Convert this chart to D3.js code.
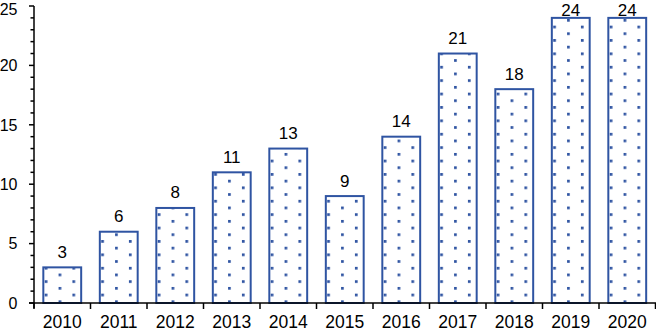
<!DOCTYPE html>
<html>
<head>
<meta charset="utf-8">
<script src="https://cdn.jsdelivr.net/npm/d3@7"></script>
<style>
  html, body { margin: 0; padding: 0; background: #fff; }
  svg { display: block; font-family: "Liberation Sans", Arial, sans-serif; }
</style>
</head>
<body>
<svg id="chart" width="656" height="332"></svg>
<script>
const years = ["2010","2011","2012","2013","2014","2015","2016","2017","2018","2019","2020"];
const counts = [3, 6, 8, 11, 13, 9, 14, 21, 18, 24, 24];
const yTicks = [0, 5, 10, 15, 20, 25];

(function () {
const W = 656, H = 332;
const mLeft = 34, mRight = 655.5, mTop = 6, mBottom = 303;
const blue = "#2f54a2";

const svg = d3.select("#chart");
const x = d3.scaleBand().domain(years).range([mLeft, mRight]).paddingInner(0.33).paddingOuter(0.165);
const y = d3.scaleLinear().domain([0, 25]).range([mBottom, mTop]);

const defs = svg.append("defs");
const dx = 27.7, dy = 13.4, ds = 2.7;
years.forEach((yr, i) => {
  const p = defs.append("pattern")
    .attr("id", "dots" + i)
    .attr("patternUnits", "userSpaceOnUse")
    .attr("width", dx).attr("height", dy)
    .attr("x", x(yr) + 2.75 - ds / 2).attr("y", y(0) - 8 - ds / 2);
  p.append("rect").attr("x", 0).attr("y", 0).attr("width", ds).attr("height", ds).attr("fill", blue);
  p.append("rect").attr("x", dx / 2).attr("y", dy / 2).attr("width", ds).attr("height", ds).attr("fill", blue);
});

// bars
svg.append("g").selectAll("rect").data(years).join("rect")
  .attr("x", d => x(d))
  .attr("y", (d, i) => y(counts[i]))
  .attr("width", x.bandwidth())
  .attr("height", (d, i) => y(0) - y(counts[i]))
  .attr("fill", (d, i) => `url(#dots${i})`)
  .attr("stroke", blue)
  .attr("stroke-width", 2);

// value labels
svg.append("g").selectAll("text").data(years).join("text")
  .attr("x", d => x(d) + x.bandwidth() / 2)
  .attr("y", (d, i) => Math.max(y(counts[i]) - 9.5, 15.5))
  .attr("text-anchor", "middle")
  .attr("font-size", 17)
  .attr("fill", "#000")
  .text((d, i) => counts[i]);

// y axis
const yAxis = svg.append("g");
yAxis.append("line").attr("x1", mLeft).attr("x2", mLeft).attr("y1", mTop).attr("y2", mBottom + 5)
  .attr("stroke", "#000").attr("stroke-width", 1.5);
const minor = d3.range(0, 26);
yAxis.selectAll("line.minor").data(minor.filter(v => v % 5 !== 0)).join("line")
  .attr("class", "minor")
  .attr("x1", mLeft - 3.5).attr("x2", mLeft)
  .attr("y1", d => y(d)).attr("y2", d => y(d))
  .attr("stroke", "#000").attr("stroke-width", 1.5);
yAxis.selectAll("line.major").data(yTicks).join("line")
  .attr("class", "major")
  .attr("x1", mLeft - 5).attr("x2", mLeft)
  .attr("y1", d => y(d)).attr("y2", d => y(d))
  .attr("stroke", "#000").attr("stroke-width", 1.5);
yAxis.selectAll("text").data(yTicks).join("text")
  .attr("x", 17.5).attr("y", d => Math.max(y(d) + 5.8, 14.6))
  .attr("text-anchor", "end")
  .attr("font-size", 16)
  .attr("fill", "#000")
  .text(d => d);

// x axis
const xAxis = svg.append("g");
xAxis.append("line").attr("x1", mLeft - 5).attr("x2", W).attr("y1", mBottom).attr("y2", mBottom)
  .attr("stroke", "#000").attr("stroke-width", 1.5);
const bounds = years.map(d => x(d) - x.step() * x.paddingOuter()).concat([mRight]);
xAxis.selectAll("line.tick").data(bounds).join("line")
  .attr("class", "tick")
  .attr("x1", d => d).attr("x2", d => d)
  .attr("y1", mBottom).attr("y2", mBottom + 6)
  .attr("stroke", "#000").attr("stroke-width", 1.5);
xAxis.selectAll("text").data(years).join("text")
  .attr("x", d => x(d) + x.bandwidth() / 2)
  .attr("y", 328)
  .attr("text-anchor", "middle")
  .attr("font-size", 17.5)
  .attr("fill", "#000")
  .text(d => d);
})();
</script>
</body>
</html>
